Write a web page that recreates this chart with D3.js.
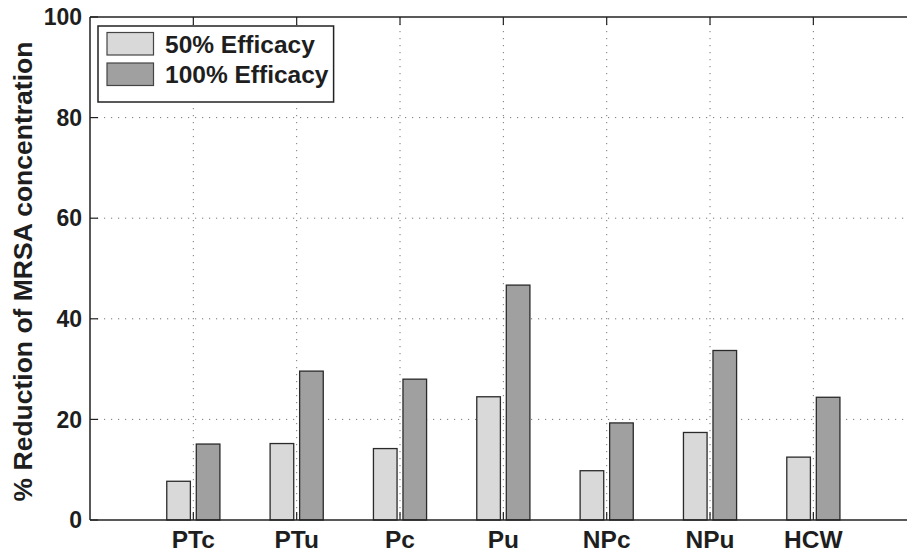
<!DOCTYPE html>
<html lang="en">
<head>
<meta charset="UTF-8">
<title>MRSA reduction</title>
<script src="https://d3js.org/d3.v7.min.js"></script>
<style>
  body { margin: 0; padding: 0; background: #fff; overflow: hidden; }
  text { font-family: "Liberation Sans", Arial, Helvetica, sans-serif; font-weight: bold; fill: #1e1e1e; }
</style>
</head>
<body>
<div id="chart"></div>
<script>
// data
const categories = ["PTc", "PTu", "Pc", "Pu", "NPc", "NPu", "HCW"];
const seriesNames = ["50% Efficacy", "100% Efficacy"];
const eff50 = [7.7, 15.2, 14.2, 24.5, 9.8, 17.4, 12.5];
const eff100 = [15.1, 29.6, 28.0, 46.7, 19.3, 33.7, 24.4];
const yTicks = [0, 20, 40, 60, 80, 100];
const colors = ["#d9d9d9", "#a0a0a0"];

const W = 907, H = 553;
const margin = {left: 90, top: 17, bottom: 33};
const plotW = 826.7;             // the axes run past the right edge of the window
const plotH = H - margin.top - margin.bottom;

const svg = d3.select("#chart").append("svg")
  .attr("width", W).attr("height", H);

const g = svg.append("g").attr("transform", `translate(${margin.left},${margin.top})`);

// x is numeric like matlab: categories at 1..7, limits 0..8
const x = d3.scaleLinear().domain([0, categories.length + 1]).range([0, plotW]);
const y = d3.scaleLinear().domain([0, 100]).range([plotH, 0]);

const groupW = x(0.5714) - x(0);
const sub = d3.scaleBand().domain(seriesNames)
  .range([-groupW / 2, groupW / 2]).paddingInner(0.2).paddingOuter(0.1);

// grid
const dots = "1.2,5.8";
g.append("g").selectAll("line").data(yTicks.slice(1, -1)).join("line")
  .attr("x1", 0).attr("x2", plotW)
  .attr("y1", d => y(d)).attr("y2", d => y(d))
  .attr("stroke", "#777").attr("stroke-width", 1).attr("stroke-dasharray", dots);
g.append("g").selectAll("line").data(categories).join("line")
  .attr("x1", (d, i) => x(i + 1)).attr("x2", (d, i) => x(i + 1))
  .attr("y1", 0).attr("y2", plotH)
  .attr("stroke", "#777").attr("stroke-width", 1).attr("stroke-dasharray", dots);

// bars
const rows = categories.map((c, i) => ({c, i, vals: [eff50[i], eff100[i]]}));
const grp = g.append("g").selectAll("g").data(rows).join("g")
  .attr("transform", d => `translate(${x(d.i + 1)},0)`);
grp.selectAll("rect").data(d => d.vals.map((v, k) => ({v, k}))).join("rect")
  .attr("x", d => sub(seriesNames[d.k]))
  .attr("width", sub.bandwidth())
  .attr("y", d => y(d.v))
  .attr("height", d => plotH - y(d.v))
  .attr("fill", d => colors[d.k])
  .attr("stroke", "#2a2a2a").attr("stroke-width", 1.3);

// axes box
g.append("line").attr("x1", 0).attr("x2", plotW).attr("y1", plotH).attr("y2", plotH)
  .attr("stroke", "#222").attr("stroke-width", 1.5);
g.append("line").attr("x1", 0).attr("x2", plotW).attr("y1", 0).attr("y2", 0)
  .attr("stroke", "#222").attr("stroke-width", 1.5);
g.append("line").attr("x1", 0).attr("x2", 0).attr("y1", 0).attr("y2", plotH)
  .attr("stroke", "#222").attr("stroke-width", 1.5);

// inward ticks
const tl = 8;
g.append("g").selectAll("line").data(categories).join("line")
  .attr("x1", (d, i) => x(i + 1)).attr("x2", (d, i) => x(i + 1))
  .attr("y1", plotH).attr("y2", plotH - tl).attr("stroke", "#222").attr("stroke-width", 1.2);
g.append("g").selectAll("line").data(categories).join("line")
  .attr("x1", (d, i) => x(i + 1)).attr("x2", (d, i) => x(i + 1))
  .attr("y1", 0).attr("y2", tl).attr("stroke", "#222").attr("stroke-width", 1.2);
g.append("g").selectAll("line").data(yTicks).join("line")
  .attr("x1", 0).attr("x2", tl)
  .attr("y1", d => y(d)).attr("y2", d => y(d)).attr("stroke", "#222").attr("stroke-width", 1.2);

// tick labels
g.append("g").selectAll("text").data(yTicks).join("text")
  .attr("x", -8).attr("y", d => y(d)).attr("dy", "0.36em")
  .attr("text-anchor", "end").style("font-size", "23px")
  .text(d => d);
g.append("g").selectAll("text").data(categories).join("text")
  .attr("x", (d, i) => x(i + 1)).attr("y", plotH + 28)
  .attr("text-anchor", "middle").style("font-size", "24.5px")
  .text(d => d);

// y label
svg.append("text")
  .attr("transform", `translate(32,${margin.top + plotH / 2 + 3}) rotate(-90)`)
  .attr("text-anchor", "middle").style("font-size", "26.5px")
  .text("% Reduction of MRSA concentration");

// legend
const lg = svg.append("g").attr("transform", "translate(98,26)");
lg.append("rect").attr("width", 235.6).attr("height", 76)
  .attr("fill", "#fff").attr("stroke", "#222").attr("stroke-width", 1.5);
seriesNames.forEach((s, k) => {
  lg.append("rect").attr("x", 9).attr("y", 6.5 + k * 30.5)
    .attr("width", 46.5).attr("height", 22.5)
    .attr("fill", colors[k]).attr("stroke", "#444").attr("stroke-width", 1.2);
  lg.append("text").attr("x", 67).attr("y", 18 + k * 30.5).attr("dy", "0.36em")
    .style("font-size", "24.5px").text(s);
});
</script>
</body>
</html>
